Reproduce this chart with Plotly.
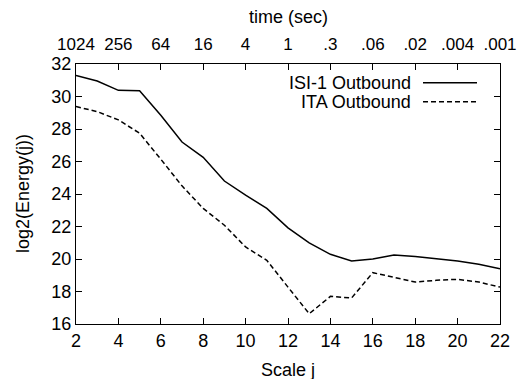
import plotly.graph_objects as go

scale_j = list(range(2, 23))
isi1 = [31.3, 30.95, 30.38, 30.35, 28.85, 27.2, 26.26, 24.8, 23.93, 23.11, 21.92,
        20.99, 20.29, 19.88, 20.0, 20.25, 20.15, 20.0, 19.88, 19.67, 19.4]
ita = [29.38, 29.07, 28.56, 27.74, 26.14, 24.5, 23.11, 22.08, 20.74, 19.92, 18.27,
       16.63, 17.7, 17.6, 19.16, 18.89, 18.58, 18.69, 18.75, 18.58, 18.27]
bottom_ticks = list(range(2, 23, 2))
top_ticktext = ["1024", "256", "64", "16", "4", "1", ".3", ".06", ".02", ".004", ".001"]
y_ticks = list(range(16, 33, 2))

FONT = "Liberation Sans, Arial, sans-serif"
fs = 18

# plot area in pixels
PL, PR, PT, PB = 76, 500, 64, 324
W, H = 517, 379


def px_x(x):
    return (x - PL) / (PR - PL)


def px_y(y):
    return (PB - y) / (PB - PT)


fig = go.Figure()
fig.add_trace(go.Scatter(x=scale_j, y=isi1, mode="lines", name="ISI-1 Outbound",
                         line=dict(color="black", width=1.5), showlegend=False))
fig.add_trace(go.Scatter(x=scale_j, y=ita, mode="lines", name="ITA Outbound",
                         line=dict(color="black", width=1.5, dash="5px,3px"), showlegend=False))
# invisible trace to activate top axis
fig.add_trace(go.Scatter(x=[2, 22], y=[16, 16], xaxis="x2", mode="lines",
                         line=dict(color="rgba(0,0,0,0)"), hoverinfo="skip", showlegend=False))

axis_common = dict(showgrid=False, zeroline=False, linecolor="black", linewidth=1,
                   ticks="inside", ticklen=6, tickcolor="black", tickwidth=1,
                   automargin=False)

fig.update_layout(
    width=W, height=H,
    margin=dict(l=PL, r=W - PR, t=PT, b=H - PB),
    paper_bgcolor="white", plot_bgcolor="white",
    font=dict(family=FONT, size=fs, color="black"),
    xaxis=dict(range=[2, 22], tickvals=bottom_ticks, mirror=True,
               tickfont=dict(family=FONT, size=fs, color="black"), **axis_common),
    xaxis2=dict(range=[2, 22], tickvals=bottom_ticks, ticktext=top_ticktext,
                overlaying="x", side="top", anchor="y", ticklabelstandoff=6,
                tickfont=dict(family=FONT, size=17, color="black"), **axis_common),
    yaxis=dict(range=[16, 32], tickvals=y_ticks, mirror="ticks",
               tickfont=dict(family=FONT, size=fs, color="black"), **axis_common),
)

# axis titles
fig.add_annotation(x=px_x(288), y=px_y(370), xref="paper", yref="paper", text="Scale j",
                   showarrow=False, xanchor="center", yanchor="middle")
fig.add_annotation(x=px_x(288), y=px_y(17), xref="paper", yref="paper", text="time (sec)",
                   showarrow=False, xanchor="center", yanchor="middle")
fig.add_annotation(x=px_x(23), y=px_y(194), xref="paper", yref="paper", text="log2(Energy(j))",
                   showarrow=False, xanchor="center", yanchor="middle", textangle=-90)

# legend (text right-aligned, sample on right like gnuplot)
legend_items = [("ISI-1 Outbound", "solid", 82.7), ("ITA Outbound", "5px,3px", 101.7)]
for text, dash, ypx in legend_items:
    fig.add_annotation(x=px_x(413), y=px_y(ypx), xref="paper", yref="paper",
                       text=text, showarrow=False, xanchor="right", yanchor="middle")
    fig.add_shape(type="line", xref="paper", yref="paper",
                  x0=px_x(423), x1=px_x(477), y0=px_y(ypx), y1=px_y(ypx),
                  line=dict(color="black", width=1.5, dash=dash))

fig.write_html("out.html")
